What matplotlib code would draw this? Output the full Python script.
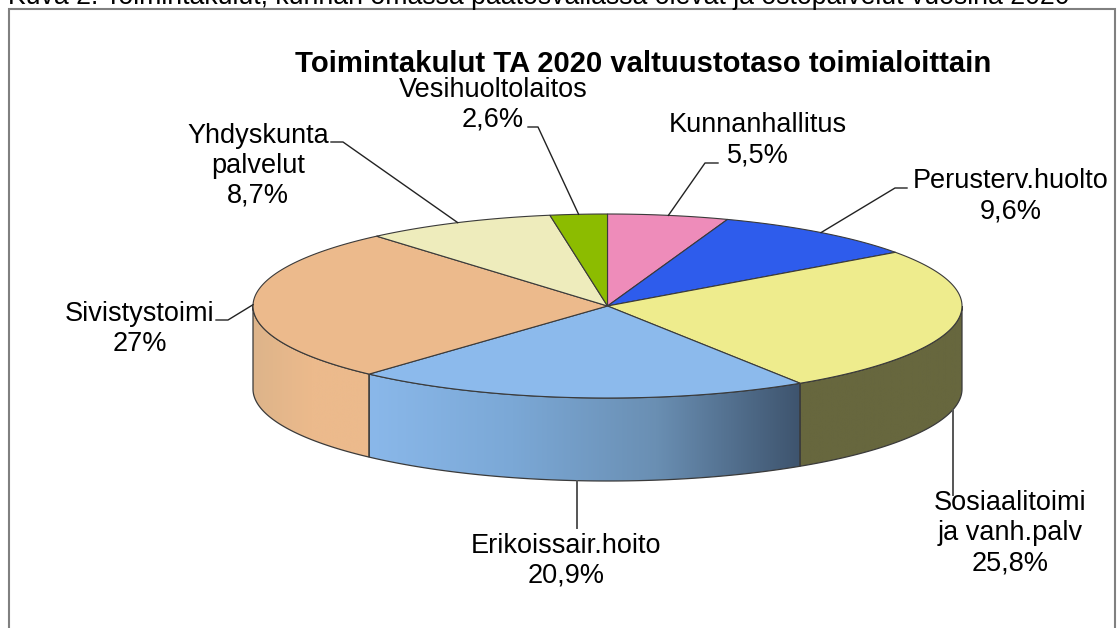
import matplotlib

matplotlib.use("Agg")
import matplotlib.pyplot as plt
import numpy as np
from matplotlib.colors import LinearSegmentedColormap
from matplotlib.patches import Polygon, Rectangle

plt.rcParams["font.family"] = ["Liberation Sans", "DejaVu Sans"]

# clockwise from twelve o'clock
categories = [
    "Kunnanhallitus",
    "Perusterv.huolto",
    "Sosiaalitoimi\nja vanh.palv",
    "Erikoissair.hoito",
    "Sivistystoimi",
    "Yhdyskunta\npalvelut",
    "Vesihuoltolaitos",
]
values = [5.5, 9.6, 25.8, 20.9, 27.0, 8.7, 2.6]
value_labels = ["5,5%", "9,6%", "25,8%", "20,9%", "27%", "8,7%", "2,6%"]

top_colors = ["#EE8CBA", "#2E5CEC", "#EEEC8D", "#8CBAEC", "#ECBA8C", "#EEECBC", "#8CBC00"]
side_ramps = [
    ["#EE8CBA", "#EE8CBA"],
    ["#2E5CEC", "#2E5CEC"],
    ["#67673E", "#67673E"],
    ["#8AB8EA", "#7BA8D6", "#6A8FB3", "#3E546E"],
    ["#DDB48A", "#ECBA8C", "#ECBA8C"],
    ["#EEECBC", "#EEECBC"],
    ["#8CBC00", "#8CBC00"],
]

# label centre x, first line y, leader elbow, leader end
label_pos = [
    (758, 124, (705, 163), (718, 163)),
    (1011, 180, (895, 188), (907, 188)),
    (1010, 502, None, (953, 495)),
    (566, 545, None, (577, 528)),
    (140, 313, (228, 320), (216, 320)),
    (258, 135, (343, 142), (331, 142)),
    (493, 89, (538, 127), (528, 127)),
]

CX, CY, RX, RY, DEPTH = 607.5, 306.0, 354.5, 92.0, 83.0
EDGE = "#3A3A3A"


def rim(theta):
    """Point(s) on the top ellipse, theta in degrees clockwise from the top."""
    t = np.radians(theta)
    return CX + RX * np.sin(t), CY - RY * np.cos(t)


fig = plt.figure(figsize=(11.17, 6.28), dpi=100)
ax = fig.add_axes([0, 0, 1, 1])
ax.axis("off")

ax.text(8, 4, "Kuva 2. Toimintakulut, kunnan omassa päätösvallassa olevat ja ostopalvelut vuosina 2020",
        fontsize=19.17, ha="left", va="baseline", color="black")
ax.add_patch(Rectangle((9, 9), 1106, 640, fc="white", ec="#808080", lw=1.5))
ax.text(643, 63.5, "Toimintakulut TA 2020 valtuustotaso toimialoittain",
        fontsize=21.1, fontweight="bold", ha="center", va="center", color="black")

edges = np.cumsum([0] + values) / sum(values) * 360

# side walls first, only the front half of the cake shows them
for i in range(len(values)):
    a, b = max(edges[i], 90), min(edges[i + 1], 270)
    if a >= b:
        continue
    th = np.linspace(a, b, 80)
    x, y = rim(th)
    pts = np.r_[np.c_[x, y], np.c_[x[::-1], y[::-1] + DEPTH]]
    wall = Polygon(pts, closed=True, fc="none", ec="none")
    ax.add_patch(wall)
    cmap = LinearSegmentedColormap.from_list(f"side{i}", side_ramps[i])
    img = ax.imshow(
        np.linspace(0, 1, 256)[None, :],
        cmap=cmap,
        aspect="auto",
        extent=(x.min(), x.max(), y.max() + DEPTH, y.min()),
        zorder=2,
    )
    img.set_clip_path(wall)
    ax.add_patch(Polygon(pts, closed=True, fc="none", ec=EDGE, lw=0.9, zorder=3))

# top faces
for i in range(len(values)):
    th = np.linspace(edges[i], edges[i + 1], 120)
    x, y = rim(th)
    pts = np.r_[[[CX, CY]], np.c_[x, y]]
    ax.add_patch(Polygon(pts, closed=True, fc=top_colors[i], ec=EDGE, lw=0.8, zorder=4))

# labels and leader lines, leaders start from the middle of each slice
for i, (cat, val) in enumerate(zip(categories, value_labels)):
    lx, ly, elbow, end = label_pos[i]
    mid = (edges[i] + edges[i + 1]) / 2
    sx, sy = rim(mid)
    if elbow is None:
        # straight drop from the lower wall edge
        sx = end[0]
        sy = CY + RY * np.sqrt(1 - ((sx - CX) / RX) ** 2) + DEPTH
    path = [(sx, sy)] + ([elbow] if elbow else []) + [end]
    ax.plot(*zip(*path), color="#222222" if elbow else "#555555", lw=1.0 if elbow else 1.4, zorder=5)
    ax.text(lx, ly - 12, f"{cat}\n{val}", fontsize=19.5, ha="center", va="top", color="black",
            linespacing=1.2, zorder=6)

ax.set_xlim(0, 1117)
ax.set_ylim(628, 0)

fig.savefig("out.png", dpi=100)
plt.close(fig)
